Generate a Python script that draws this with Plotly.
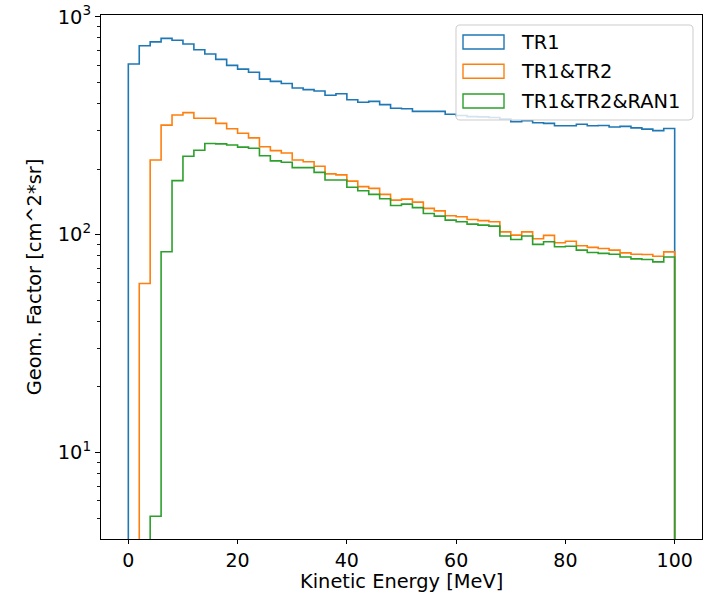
import numpy as np
import plotly.graph_objects as go

# ---------------- data ----------------
bin_width = 2.0           # MeV
e_min, e_max = 0.0, 100.0
series_names = ["TR1", "TR1&TR2", "TR1&TR2&RAN1"]

tr1 = [607, 736, 767, 796, 780, 750, 705, 674, 637, 598,
       575, 556, 517, 505, 494, 471, 463, 456, 436, 443,
       416, 405, 409, 395, 380, 378, 368, 368, 368, 357,
       352, 348, 347, 345, 339, 330, 333, 326, 324, 316,
       316, 321, 316, 317, 312, 314, 309, 305, 300, 307]

tr1_tr2 = [0, 59.7, 220, 318, 354, 363, 342, 342, 324, 306,
           292, 278, 253, 243, 237, 220, 216, 206, 190, 188,
           176, 166, 163, 153, 144, 145.5, 141, 132, 128.5, 122,
           120.7, 117.4, 116, 114.5, 103, 99.5, 103, 95.7, 99.2, 91.7,
           93.3, 88.9, 87.4, 86.4, 84.9, 82.5, 81.3, 81.1, 79.6, 83.3]

tr1_tr2_ran1 = [0, 0, 5.1, 83.4, 177, 229, 244, 262, 261, 258,
                252, 249, 230, 218, 215, 203, 203, 193, 178, 178,
                165, 159, 153, 146, 136, 138, 133, 125, 121.6, 116.6,
                114.6, 111.7, 110.6, 109.4, 98.5, 95, 98.5, 90.2, 92.7, 88,
                88.5, 84.9, 82.8, 82, 81.3, 79, 77.4, 76.9, 75, 79]

y_tick_vals = [10, 100, 1000]
y_tick_text = ["10<sup>1</sup>", "10<sup>2</sup>", "10<sup>3</sup>"]
x_tick_vals = [0, 20, 40, 60, 80, 100]
x_title = "Kinetic Energy [MeV]"
y_title = "Geom. Factor [cm^2*sr]"

# ---------------- styling ----------------
colors = ["#1f77b4", "#ff7f0e", "#2ca02c"]
FONT = "DejaVu Sans"
FS = 19.4
W, H = 715, 594
L, R, T, B = 101, 13, 15, 55
PW, PH = W - L - R, H - T - B

edges = np.arange(e_min, e_max + bin_width / 2, bin_width)
FLOOR = 1e-3  # below visible range: gives the vertical drops of a step histogram

fig = go.Figure()
for name, vals, col in zip(series_names, [tr1, tr1_tr2, tr1_tr2_ran1], colors):
    v = np.array(vals, dtype=float)
    v[v <= 0] = FLOOR
    xs = np.concatenate([[edges[0]], edges[:-1], [edges[-1]]])
    ys = np.concatenate([[FLOOR], v, [FLOOR]])
    fig.add_trace(go.Scatter(x=xs, y=ys, mode="lines", name=name,
                             line=dict(color=col, width=1.6, shape="hv"),
                             showlegend=False, hoverinfo="skip"))

# minor log ticks
minor_vals = [m * 10 ** e for e in range(0, 3) for m in range(2, 10)]

fig.update_layout(
    width=W, height=H,
    margin=dict(l=L, r=R, t=T, b=B, autoexpand=False),
    paper_bgcolor="white", plot_bgcolor="white",
    font=dict(family=FONT, size=FS, color="black"),
    xaxis=dict(
        range=[-5, 105], tickmode="array", tickvals=x_tick_vals,
        automargin=False,
        ticks="outside", ticklen=4, tickwidth=1.1, tickcolor="black",
        showline=True, linecolor="black", linewidth=1.1, mirror=True,
        showgrid=False, zeroline=False,
        tickfont=dict(family=FONT, size=19),
    ),
    yaxis=dict(
        type="log", range=[0.603, 3.008],
        automargin=False,
        tickmode="array", tickvals=y_tick_vals, ticktext=y_tick_text,
        ticks="outside", ticklen=5, tickwidth=1.1, tickcolor="black",
        minor=dict(tickmode="array", tickvals=minor_vals, ticks="outside",
                   ticklen=2.8, tickwidth=0.9, tickcolor="black", showgrid=False),
        showline=True, linecolor="black", linewidth=1.1, mirror=True,
        showgrid=False, zeroline=False,
        title=dict(text=y_title, standoff=10,
                   font=dict(family=FONT, size=FS)),
        tickfont=dict(family=FONT, size=FS),
    ),
)

# ---------------- pixel -> paper helpers ----------------
def px(x):
    return (x - L) / PW

def py(y):
    return (H - B - y) / PH

# x-axis title placed just under the tick labels, like matplotlib
fig.add_annotation(xref="paper", yref="paper", x=0.5, y=py(594),
                   text=x_title, showarrow=False, xanchor="center", yanchor="bottom",
                   borderpad=0, font=dict(family=FONT, size=FS, color="black"))

# ---------------- legend drawn like matplotlib's ----------------
def rounded_rect_path(x0, y0, x1, y1, r):
    # pixel coords -> paper coords path with rounded corners
    pts = [
        ("M", (x0 + r, y0)), ("L", (x1 - r, y0)), ("Q", (x1, y0), (x1, y0 + r)),
        ("L", (x1, y1 - r)), ("Q", (x1, y1), (x1 - r, y1)),
        ("L", (x0 + r, y1)), ("Q", (x0, y1), (x0, y1 - r)),
        ("L", (x0, y0 + r)), ("Q", (x0, y0), (x0 + r, y0)),
    ]
    s = ""
    for cmd, *cs in pts:
        s += cmd + " ".join(f"{px(a):.5f},{py(b):.5f}" for a, b in cs) + " "
    return s + "Z"

leg_x0, leg_y0, leg_x1, leg_y1 = 456, 25, 693, 120
fig.add_shape(type="path", xref="paper", yref="paper",
              path=rounded_rect_path(leg_x0, leg_y0, leg_x1, leg_y1, 4),
              line=dict(color="#cccccc", width=1),
              fillcolor="rgba(255,255,255,0.8)", layer="above")

row_centers = [42, 71.3, 101]
for name, col, yc in zip(series_names, colors, row_centers):
    fig.add_shape(type="rect", xref="paper", yref="paper",
                  x0=px(463), x1=px(504), y0=py(yc - 7), y1=py(yc + 7),
                  line=dict(color=col, width=1.4), fillcolor="rgba(0,0,0,0)",
                  layer="above")
    fig.add_annotation(xref="paper", yref="paper", x=px(519), y=py(yc),
                       text=name, showarrow=False, xanchor="left", yanchor="middle",
                       font=dict(family=FONT, size=FS, color="black"))

# remove the browser's default 8px body margin so the figure sits at (0, 0)
fig.write_html("out.html",
               config={"displayModeBar": False, "staticPlot": True},
               post_script="document.body.style.margin='0';document.body.style.overflow='hidden';")
